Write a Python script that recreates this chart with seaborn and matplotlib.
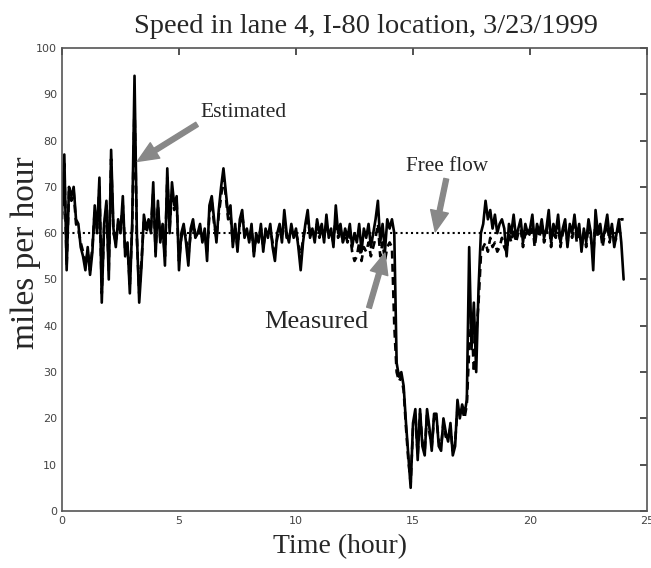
import numpy as np
import pandas as pd
import matplotlib
matplotlib.use("Agg")
import matplotlib.pyplot as plt
import seaborn as sns

# velocidade estimada (mph), uma leitura a cada 0.1 h, de 0 a 24 h
estimated = [
    64, 77, 52, 70, 68, 70, 63, 62, 57, 55,
    52, 57, 51, 56, 66, 60, 72, 45, 62, 67,
    50, 78, 61, 57, 63, 60, 68, 55, 58, 47,
    62, 94, 60, 45, 53, 64, 61, 63, 60, 71,
    55, 67, 58, 62, 53, 74, 60, 71, 66, 68,
    52, 60, 62, 58, 53, 61, 63, 59, 60, 62,
    58, 61, 54, 66, 68, 63, 58, 65, 70, 74,
    69, 64, 66, 57, 62, 56, 63, 65, 59, 61,
    58, 62, 55, 60, 58, 62, 56, 61, 59, 62,
    57, 54, 60, 62, 58, 65, 60, 58, 62, 59,
    61, 57, 52, 58, 62, 65, 59, 61, 58, 63,
    60, 62, 58, 64, 59, 61, 57, 66, 60, 62,
    58, 61, 59, 62, 57, 60, 58, 62, 56, 61,
    59, 62, 57, 60, 63, 67, 58, 62, 56, 63,
    61, 63, 60, 32, 29, 30, 27, 19, 12, 5,
    19, 22, 11, 22, 14, 12, 22, 18, 13, 21,
    21, 14, 13, 20, 17, 15, 19, 12, 14, 24,
    20, 23, 21, 24, 57, 35, 45, 30, 48, 60,
    62, 67, 63, 65, 61, 64, 60, 62, 63, 61,
    55, 62, 60, 64, 59, 61, 63, 58, 62, 60,
    61, 64, 58, 62, 60, 63, 59, 61, 65, 58,
    62, 60, 64, 58, 61, 63, 57, 62, 60, 64,
    59, 62, 56, 61, 58, 63, 60, 52, 65, 60,
    62, 58, 61, 64, 59, 62, 57, 60, 63, 58,
    50,
]

# velocidade medida (mph), mesma grade de tempo
measured = [
    63, 75, 53, 69, 67, 69, 62, 61, 58, 56,
    53, 56, 52, 57, 65, 61, 70, 47, 61, 66,
    52, 76, 60, 58, 62, 61, 66, 56, 57, 49,
    61, 88, 59, 47, 54, 63, 60, 62, 61, 69,
    56, 66, 59, 61, 55, 72, 61, 69, 65, 67,
    54, 59, 61, 59, 55, 60, 62, 60, 59, 61,
    59, 60, 56, 64, 67, 62, 59, 64, 68, 72,
    68, 63, 64, 58, 61, 57, 62, 64, 60, 60,
    59, 61, 56, 59, 59, 61, 57, 60, 60, 61,
    58, 56, 59, 61, 59, 63, 59, 59, 61, 60,
    60, 58, 54, 59, 61, 63, 60, 60, 59, 62,
    59, 61, 59, 62, 60, 60, 58, 64, 59, 61,
    58, 60, 58, 60, 56, 54, 55, 58, 54, 57,
    56, 58, 55, 57, 59, 62, 55, 58, 54, 57,
    58, 57, 40, 30, 28, 29, 26, 18, 11, 6,
    18, 21, 12, 21, 15, 13, 21, 17, 14, 20,
    20, 15, 14, 19, 16, 16, 18, 13, 15, 22,
    21, 22, 20, 23, 35, 42, 30, 38, 45, 55,
    57, 58, 56, 59, 57, 58, 56, 57, 59, 57,
    56, 60, 58, 61, 58, 60, 61, 57, 60, 59,
    60, 62, 57, 61, 59, 62, 58, 60, 63, 57,
    61, 59, 62, 57, 60, 62, 58, 61, 59, 62,
    58, 61, 57, 60, 57, 62, 59, 55, 63, 59,
    61, 57, 60, 62, 58, 61, 58, 59, 62, 63,
    63,
]

time_step = 0.1   # horas entre leituras
free_flow_speed = 60
free_flow_span = [0, 24]

hours = np.arange(len(estimated)) * time_step
df = pd.DataFrame({"Time": hours, "Estimated": estimated, "Measured": measured})

sns.set_style("white")
plt.rcParams["font.family"] = ["DejaVu Sans"]

fig = plt.figure(figsize=(6.51, 5.68), dpi=100)
ax = fig.add_axes([0.0952, 0.1004, 0.8987, 0.8151])

sns.lineplot(x="Time", y="Measured", data=df, ax=ax, color="black",
             linewidth=1.9, linestyle=(0, (3, 2)))
sns.lineplot(x="Time", y="Estimated", data=df, ax=ax, color="black",
             linewidth=1.9)
ax.plot(free_flow_span, [free_flow_speed, free_flow_speed], color="black",
        linestyle=(0, (1, 1.5)), linewidth=1.5)

ax.set_xlim(0, 25)
ax.set_ylim(0, 100)
ax.set_xticks([0, 5, 10, 15, 20, 25])
ax.set_yticks(range(0, 101, 10))
ax.tick_params(direction="in", length=5, width=1.2, top=True, right=True,
               labelsize=8, labelcolor="#444444", color="#333333")
for s in ax.spines.values():
    s.set_color("#555555")
    s.set_linewidth(1.2)

serif = ["Liberation Serif", "DejaVu Serif"]
ax.set_title("Speed in lane 4, I-80 location, 3/23/1999", family=serif,
             fontsize=20.5, x=0.52, pad=11)
ax.set_xlabel("Time (hour)", family=serif, fontsize=20)
ax.set_ylabel("miles per hour", family=serif, fontsize=24)
ax.xaxis.set_label_coords(0.475, -0.05)
ax.yaxis.set_label_coords(-0.036, 0.557)

arrow = dict(facecolor="#888888", edgecolor="#888888", width=3.5,
             headwidth=13, headlength=15, shrink=0)
ax.annotate("Estimated", xy=(3.22, 75.5), xytext=(7.75, 86), family=serif,
            fontsize=15.5, ha="center", va="center", arrowprops=arrow)
ax.annotate("Free flow", xy=(15.95, 60.3), xytext=(16.45, 74.5), family=serif,
            fontsize=15.3, ha="center", va="center", arrowprops=arrow)
ax.annotate("Measured", xy=(13.8, 55.7), xytext=(10.85, 40.8), family=serif,
            fontsize=19, ha="center", va="center", arrowprops=arrow)

plt.savefig("out.png", dpi=100)
